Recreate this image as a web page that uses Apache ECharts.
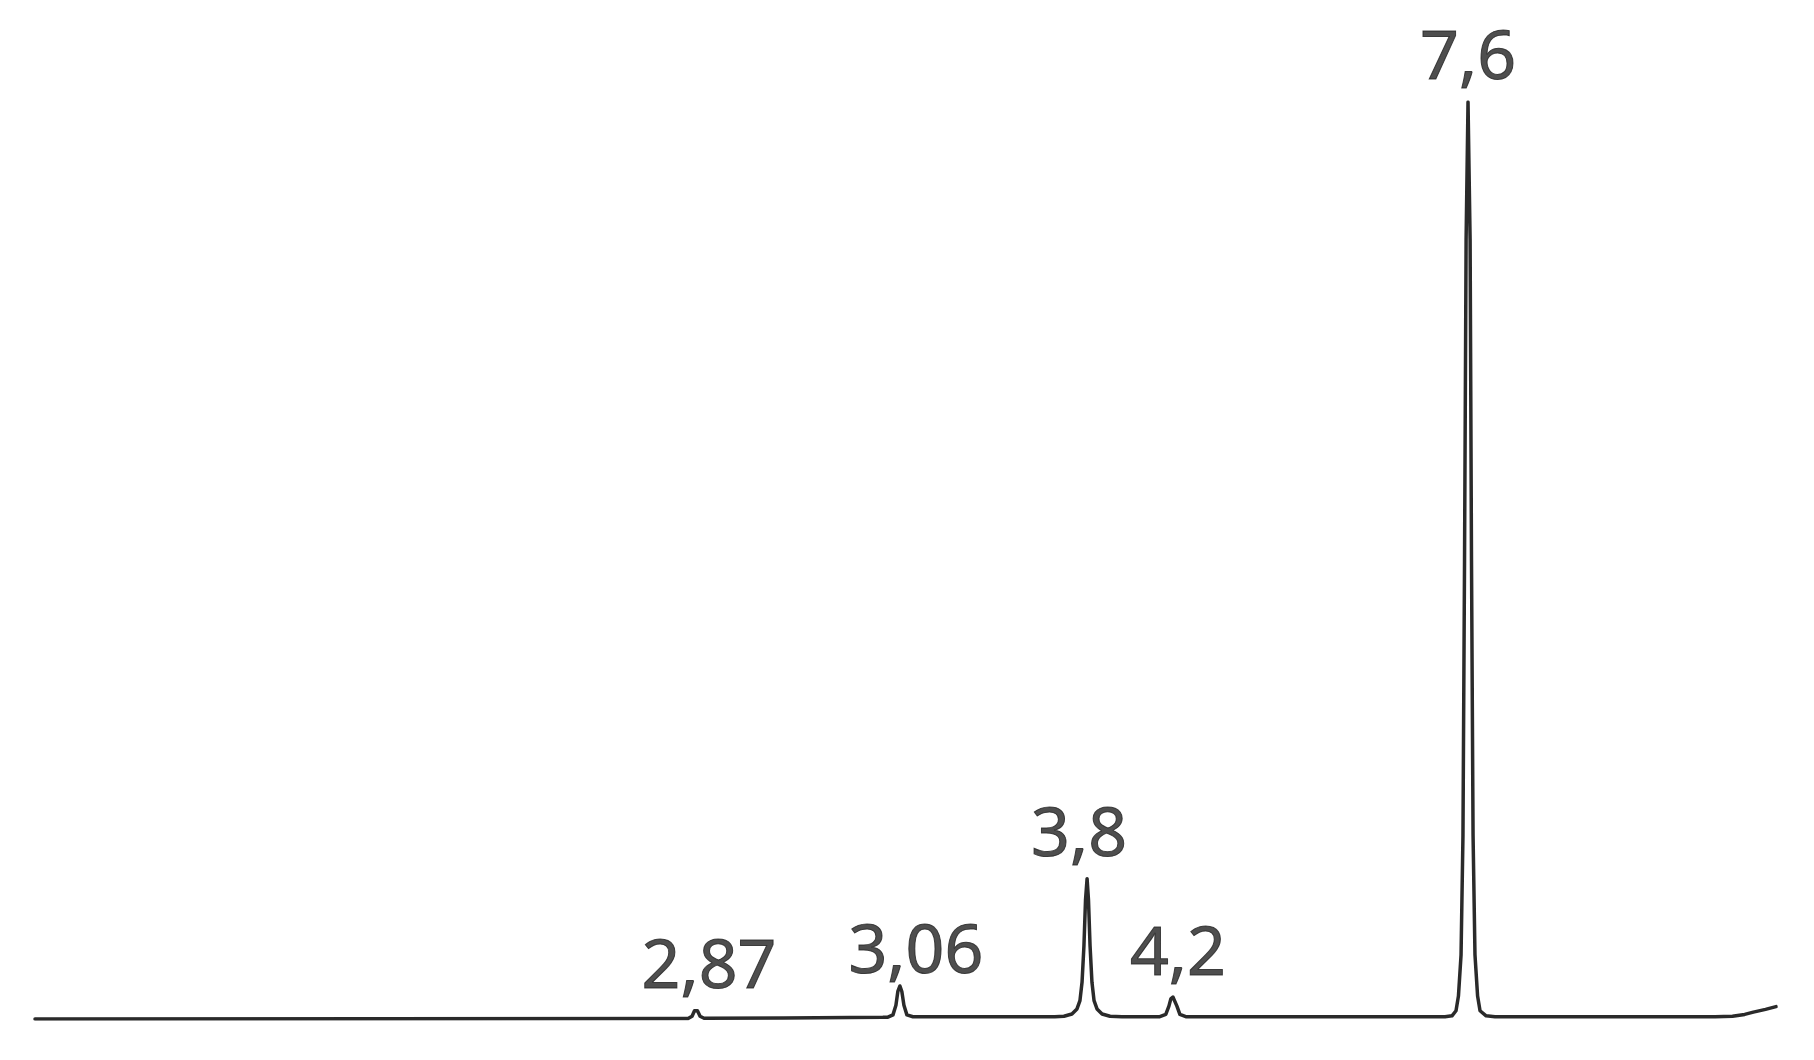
<!DOCTYPE html>
<html>
<head>
<meta charset="utf-8">
<title>Chromatogram</title>
<script src="https://cdn.jsdelivr.net/npm/echarts@6/dist/echarts.min.js"></script>
<style>
  html, body { margin: 0; padding: 0; background: #fff; }
  #chart { width: 1814px; height: 1060px; }
</style>
</head>
<body>
<div id="chart"></div>
<script>
// trace: x in arbitrary run units (0-100), y in signal units (0-100)
const baselineLeft = [[0, 0], [20, 0.02], [37.3, 0.05]]
const peak287 = [[37.51, 0.05], [37.74, 0.3], [37.88, 0.9], [37.97, 1.0], [38.05, 0.9], [38.2, 0.3], [38.43, 0.08]]
const baselineMid1 = [[43, 0.12], [48.7, 0.18]]
const peak306 = [[48.99, 0.2], [49.28, 0.45], [49.45, 1.5], [49.56, 3.0], [49.68, 3.6], [49.79, 3.0], [49.91, 1.5], [50.08, 0.45], [50.43, 0.25]]
const baselineMid2 = [[55, 0.25], [58.3, 0.25]]
const peak38 = [[58.58, 0.25], [59.1, 0.3], [59.56, 0.55], [59.85, 1.1], [60.02, 2.0], [60.14, 4], [60.25, 8], [60.34, 13], [60.43, 15.3], [60.51, 13], [60.6, 8], [60.71, 4], [60.83, 2.0], [61.0, 1.1], [61.29, 0.55], [61.75, 0.3], [62.44, 0.25]]
const peak42 = [[64.61, 0.25], [64.95, 0.5], [65.13, 1.4], [65.24, 2.2], [65.36, 2.4], [65.47, 2.2], [65.59, 1.4], [65.76, 0.5], [66.1, 0.25]]
const baselineMid3 = [[72, 0.25], [80.7, 0.25]]
const peak76 = [[80.99, 0.25], [81.39, 0.35], [81.62, 0.9], [81.76, 2.5], [81.91, 7], [82.02, 20], [82.11, 50], [82.2, 85], [82.31, 100], [82.43, 85], [82.51, 50], [82.6, 20], [82.71, 7], [82.86, 2.5], [83.0, 0.9], [83.35, 0.35], [83.86, 0.25]]
const baselineRight = [[90, 0.25], [96.5, 0.25], [97.5, 0.3], [98.2, 0.5], [98.7, 0.75], [99.4, 1.05], [100, 1.35]]

// peak labels (retention times as printed) and where their apexes sit
const peakNames = ['2,87', '3,06', '3,8', '4,2', '7,6']
const peakX = [37.97, 49.68, 60.43, 65.36, 82.31]
const peakY = [1.0, 3.6, 15.3, 2.4, 100]

// label nudges in pixels (style only)
const labelDx = [13, 16, -8, 5, 0]
const labelGap = [7, -2, 8, 7, 8]

const trace = [].concat(baselineLeft, peak287, baselineMid1, peak306, baselineMid2,
  peak38, peak42, baselineMid3, peak76, baselineRight)

const chart = echarts.init(document.getElementById('chart'))

chart.setOption({
  animation: false,
  backgroundColor: '#ffffff',
  grid: { left: 35, right: 38, top: 102, bottom: 41 },
  xAxis: { type: 'value', min: 0, max: 100, show: false },
  yAxis: { type: 'value', min: 0, max: 100, show: false },
  series: [
    {
      name: 'signal',
      type: 'line',
      data: trace,
      showSymbol: false,
      smooth: false,
      lineStyle: { color: '#2a2a2a', width: 3.5, join: 'round', cap: 'round' }
    },
    {
      name: 'labels',
      type: 'scatter',
      symbolSize: 0,
      silent: true,
      data: peakNames.map((name, i) => ({
        value: [peakX[i], peakY[i]],
        label: { offset: [labelDx[i], -labelGap[i]] }
      })),
      label: {
        show: true,
        position: 'top',
        distance: 0,
        formatter: p => peakNames[p.dataIndex],
        fontFamily: 'Noto Sans',
        fontSize: 68,
        color: '#222222',
        textBorderColor: '#222222',
        textBorderWidth: 1,
        align: 'center',
        verticalAlign: 'bottom'
      }
    }
  ]
})
</script>
</body>
</html>
